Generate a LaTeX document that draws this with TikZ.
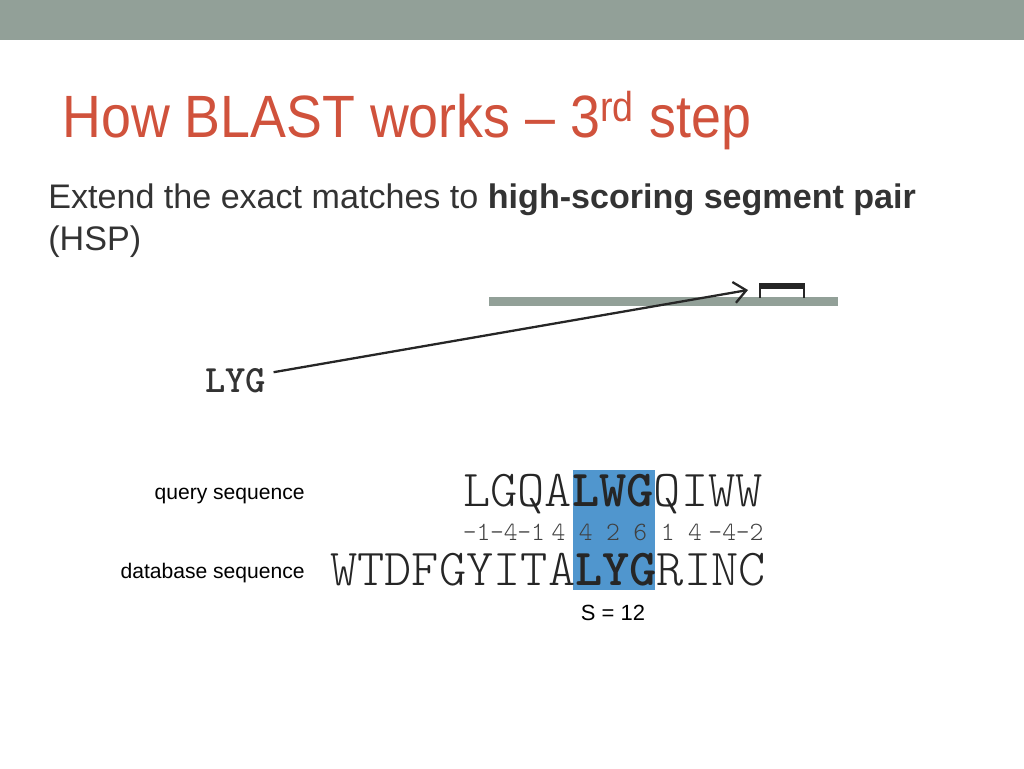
\documentclass[tikz,border=0pt]{standalone}
\usepackage{fontspec}
\setmainfont{Liberation Sans}
\newfontfamily\seqfont{Latin Modern Mono Light}
\usetikzlibrary{positioning,arrows.meta}
\definecolor{bandgray}{RGB}{146,160,152}
\definecolor{titlered}{RGB}{208,82,60}
\definecolor{hspblue}{RGB}{80,150,206}
\tikzset{
  txt/.style={inner sep=0pt, anchor=base west},
  seq/.style={txt, font=\fontsize{29.5}{32}\seqfont, text=black!85},
  score/.style={inner sep=0pt, anchor=base, font=\fontsize{15}{17}\seqfont, text=black!75}
}
\begin{document}
\begin{tikzpicture}[x=0.02cm,y=-0.02cm]
      \useasboundingbox (0,0) rectangle (1024,768);

      % Define the background
      \fill[bandgray] (0,0) rectangle (1024,40);
      \fill[bandgray] (489,297) rectangle (838,306);
      \fill[hspblue] (573,470) rectangle (655,590);
      \fill[black!85] (759,283) rectangle (805,289);
      \draw[black!85, line width=1.2pt] (760,289) -- (760,298) (804,289) -- (804,298);

      % Define the texts
      \node[txt, text=titlered, font=\fontsize{34}{38}\selectfont] (title) at (62,137)
        {\scalebox{0.9}[1]{How BLAST works -- 3\textsuperscript{rd} step}};
      \node[txt, font=\fontsize{19.4}{22}\selectfont, text=black!80] (ext) at (48,208)
        {Extend the exact matches to \textbf{high-scoring segment pair}};
      \node[txt, font=\fontsize{19.4}{22}\selectfont, text=black!80] (hsp) at (48,250) {(HSP)};

      \node[txt, font=\fontsize{22}{24}\seqfont\bfseries, text=black!80] (lyg) at (205,392) {LYG};
      \coordinate (hit) at (748,290);

      \node[inner sep=0pt, anchor=base east, font=\fontsize{12}{14}\selectfont] (query) at (305,499) {query sequence};
      \node[inner sep=0pt, anchor=base east, font=\fontsize{12}{14}\selectfont] (db) at (305,578) {database sequence};

      \node[seq] (qseq) at (463,506) {LGQA\textbf{LWG}QIWW};
      \node[seq] (dseq) at (330,585) {WTDFGYITA\textbf{LYG}RINC};

      \foreach \s [count=\i from 0] in {-1,-4,-1,4,4,2,6,1,4,-4,-2}
        \node[score] (s\i) at (463+27.3*\i+13.6,540) {\s};

      \node[inner sep=0pt, anchor=base, font=\fontsize{12.5}{14}\selectfont] (total) at (613,620) {S = 12};

      % Draw the edges
      \draw[-{Straight Barb[length=7pt,width=12pt]}, black!85, line width=1.3pt] (lyg.east) ++(7,-8) -- (hit);
  \end{tikzpicture}
\end{document}
